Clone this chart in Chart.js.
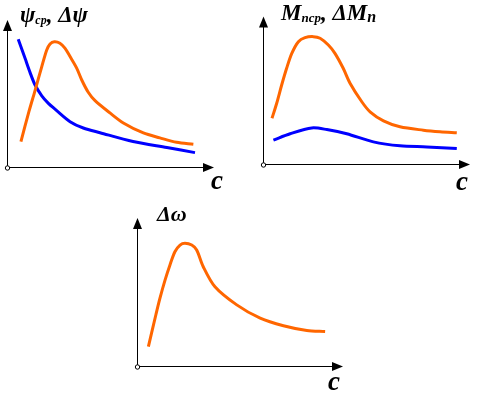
<!DOCTYPE html>
<html>
<head>
<meta charset="utf-8">
<script src="https://cdn.jsdelivr.net/npm/chart.js@4.4.0/dist/chart.umd.min.js"></script>
<style>
  html, body { margin: 0; padding: 0; background: #fff; }
  .wrap { position: relative; width: 479px; height: 394px; overflow: hidden; }
  canvas { position: absolute; left: 0; top: 0; }
  .preload { position: absolute; left: -999px; top: 0; font: italic bold 20px "Liberation Serif"; }
</style>
</head>
<body>
<div class="wrap">
  <canvas id="psi" width="479" height="394"></canvas>
  <canvas id="moment" width="479" height="394"></canvas>
  <canvas id="omega" width="479" height="394"></canvas>
</div>
<span class="preload">ψср Δψ Mпср ΔMп Δω c</span>
<script>
// Plot 1: psi_avg (blue) and delta psi (orange) against c
const psiAvgC   = [5.2, 8.5, 10.9, 13.3, 16.6, 19.8, 23.0, 30.3, 36.7, 44.8, 60.8, 77.2, 90.8];
const psiAvgVal = [87.0, 74.0, 64.5, 56.1, 48.6, 43.5, 39.6, 31.1, 26.8, 23.6, 17.6, 13.5, 10.1];
const dPsiC     = [6.5, 10.4, 13.3, 16.6, 19.0, 20.6, 22.7, 25.4, 27.8, 30.3, 33.5, 35.9, 39.1, 42.4, 49.6, 56.1, 65.8, 73.8, 81.9, 90.0];
const dPsiVal   = [17.6, 38.0, 52.0, 68.4, 79.7, 83.8, 85.3, 84.3, 80.9, 75.2, 67.4, 59.5, 51.0, 45.3, 37.0, 30.2, 23.4, 20.1, 17.1, 15.7];

// Plot 2: Mn_avg (blue) and delta Mn (orange) against c
const mAvgC     = [4.8, 12.9, 23.4, 30.7, 40.3, 53.2, 66.1, 79.1, 93.6];
const mAvgVal   = [16.5, 20.8, 24.7, 23.6, 20.8, 15.3, 12.6, 11.9, 10.8];
const dMC       = [4.1, 6.4, 8.8, 11.2, 13.7, 16.9, 20.1, 24.1, 27.4, 31.4, 34.6, 38.6, 41.9, 47.6, 51.6, 58.1, 66.1, 77.4, 85.5, 93.6];
const dMVal     = [31.2, 41.4, 53.7, 65.0, 75.1, 83.0, 85.7, 86.4, 85.3, 80.7, 75.1, 65.0, 54.9, 42.4, 35.6, 29.5, 25.5, 23.2, 22.1, 21.4];

// Plot 3: delta omega (orange) against c
const dOmegaC   = [5.3, 9.0, 10.9, 13.4, 15.8, 18.2, 20.7, 23.1, 26.4, 28.8, 32.0, 37.7, 48.3, 59.7, 71.0, 82.4, 91.3];
const dOmegaVal = [13.4, 35.2, 45.9, 58.2, 68.4, 77.3, 81.8, 83.0, 81.8, 78.5, 67.2, 53.7, 41.5, 32.5, 27.4, 24.2, 23.5];

const ORANGE = '#ff6600';
const BLUE = '#0000ff';
const LABEL_FONT = '"Liberation Serif", "Times New Roman", serif';

function points(xs, ys) {
    return xs.map((x, i) => ({ x: x, y: ys[i] }));
}

// Draws arrowed axes, the origin circle, the axis title and the "c" label
const arrowAxes = {
    id: 'arrowAxes',
    afterDraw(chart, args, opts) {
        const ctx = chart.ctx;
        const { left, right, top, bottom } = chart.chartArea;
        ctx.save();
        ctx.strokeStyle = '#000';
        ctx.fillStyle = '#000';
        ctx.lineWidth = 1;

        // axis lines
        ctx.beginPath();
        ctx.moveTo(left, bottom);
        ctx.lineTo(right - 8, bottom);
        ctx.moveTo(left, bottom);
        ctx.lineTo(left, top + 8);
        ctx.stroke();

        // arrow heads
        ctx.beginPath();
        ctx.moveTo(right, bottom);
        ctx.lineTo(right - 11, bottom - 4.5);
        ctx.lineTo(right - 11, bottom + 4.5);
        ctx.closePath();
        ctx.fill();
        ctx.beginPath();
        ctx.moveTo(left, top);
        ctx.lineTo(left - 4.5, top + 11);
        ctx.lineTo(left + 4.5, top + 11);
        ctx.closePath();
        ctx.fill();

        // origin circle
        ctx.beginPath();
        ctx.arc(left, bottom + 0.5, 2.2, 0, Math.PI * 2);
        ctx.fillStyle = '#fff';
        ctx.fill();
        ctx.stroke();

        // axis title made of segments (main text + subscripts)
        ctx.fillStyle = '#000';
        ctx.textBaseline = 'alphabetic';
        let x = opts.titleX;
        opts.title.forEach(seg => {
            ctx.font = 'italic bold ' + seg.size + 'px ' + LABEL_FONT;
            ctx.fillText(seg.t, x, opts.titleY + (seg.dy || 0));
            x += ctx.measureText(seg.t).width;
        });

        // "c" label below the x arrow
        ctx.font = 'italic bold 27px ' + LABEL_FONT;
        ctx.fillText('c', opts.cX, opts.cY);
        ctx.restore();
    }
};

function makeChart(id, datasets, pad, labelOpts) {
    return new Chart(document.getElementById(id), {
        type: 'line',
        data: { datasets: datasets },
        options: {
            responsive: false,
            animation: false,
            events: [],
            layout: { padding: pad },
            elements: {
                point: { radius: 0 },
                line: { borderWidth: 3, tension: 0.3 }
            },
            plugins: {
                legend: { display: false },
                tooltip: { enabled: false },
                arrowAxes: labelOpts
            },
            scales: {
                x: { type: 'linear', min: 0, max: 100, display: false },
                y: { min: 0, max: 100, display: false }
            }
        },
        plugins: [arrowAxes]
    });
}

function drawAll() {
    makeChart('psi', [
        { data: points(dPsiC, dPsiVal), borderColor: ORANGE, clip: false },
        { data: points(psiAvgC, psiAvgVal), borderColor: BLUE, clip: false }
    ], { left: 7.5, top: 20, right: 479 - 214, bottom: 394 - 167.5 }, {
        title: [{ t: 'ψ', size: 23 }, { t: 'ср', size: 12, dy: 2 }, { t: ', Δψ', size: 23 }],
        titleX: 20, titleY: 22, cX: 211, cY: 189
    });

    makeChart('moment', [
        { data: points(dMC, dMVal), borderColor: ORANGE, clip: false },
        { data: points(mAvgC, mAvgVal), borderColor: BLUE, clip: false }
    ], { left: 263.5, top: 16.5, right: 479 - 470, bottom: 394 - 164.5 }, {
        title: [{ t: 'M', size: 23 }, { t: 'пср', size: 13, dy: 2 }, { t: ', ΔM', size: 23 }, { t: 'п', size: 16, dy: 2 }],
        titleX: 281, titleY: 20, cX: 456, cY: 190
    });

    makeChart('omega', [
        { data: points(dOmegaC, dOmegaVal), borderColor: ORANGE, clip: false }
    ], { left: 137.5, top: 218, right: 479 - 343, bottom: 394 - 366.5 }, {
        title: [{ t: 'Δω', size: 22 }],
        titleX: 157, titleY: 221, cX: 328, cY: 390
    });
}

// make sure the serif face is ready before the canvas text is drawn
if (document.fonts && document.fonts.load) {
    document.fonts.load('italic bold 20px "Liberation Serif"', 'ψсрΔMпωc')
        .then(drawAll, drawAll);
} else {
    drawAll();
}
</script>
</body>
</html>
